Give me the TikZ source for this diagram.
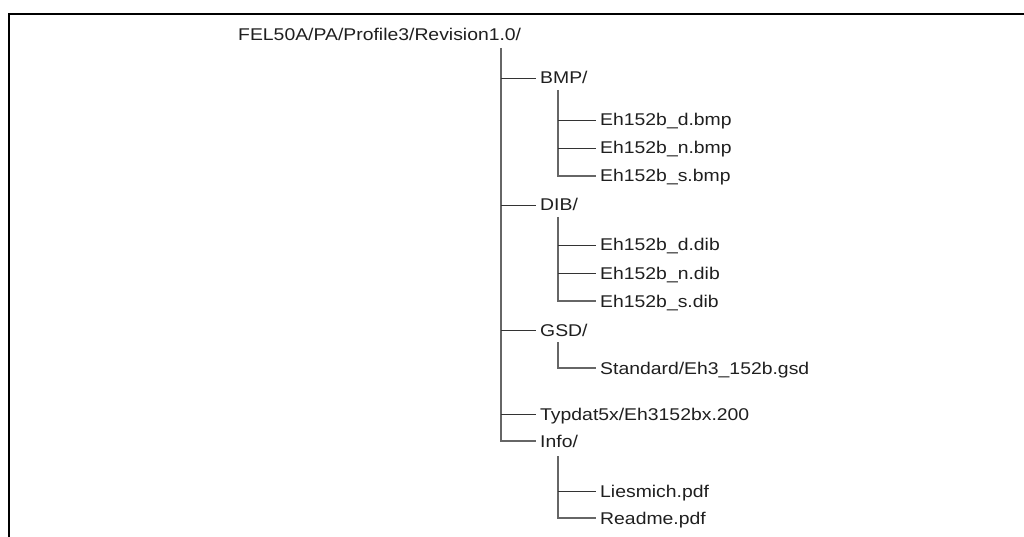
\documentclass[tikz,border=0pt]{standalone}
\usepackage{fontspec}
\setmainfont{Liberation Sans}
\newfontfamily\lblfont[FakeStretch=1.14]{Liberation Sans}
\begin{document}
\begin{tikzpicture}[x=1pt,y=-1pt,
  lbl/.style={anchor=west, inner xsep=4pt, inner ysep=0pt, text height=12pt, text depth=0pt,
    font=\lblfont\fontsize{17}{19}\selectfont, text=black!88},
  trunk/.style={draw=black!60, line width=1.4pt},
  twig/.style={draw=black!80, line width=0.9pt},
  frame/.style={draw=black, line width=2.6pt}]
\useasboundingbox (0,0) rectangle (1024,537);
\draw[frame] (1026,14) -- (9,14) -- (9,539);
% root
\node[lbl, inner xsep=0pt] (root) at (238,35) {FEL50A/PA/Profile3/Revision1.0/};
\coordinate (t0) at (501,48);
% first level
\node[lbl] (bmp) at (536,78) {BMP/};
\node[lbl] (dib) at (536,205) {DIB/};
\node[lbl] (gsd) at (536,330) {GSD/};
\node[lbl] (typ) at (536,414) {Typdat5x/Eh3152bx.200};
\node[lbl] (info) at (536,441) {Info/};
% second level
\node[lbl] (bd) at (596,120) {Eh152b\_d.bmp};
\node[lbl] (bn) at (596,148) {Eh152b\_n.bmp};
\node[lbl] (bs) at (596,176) {Eh152b\_s.bmp};
\node[lbl] (dd) at (596,245) {Eh152b\_d.dib};
\node[lbl] (dn) at (596,273) {Eh152b\_n.dib};
\node[lbl] (ds) at (596,301) {Eh152b\_s.dib};
\node[lbl] (gs) at (596,368) {Standard/Eh3\_152b.gsd};
\node[lbl] (il) at (596,491) {Liesmich.pdf};
\node[lbl] (ir) at (596,518) {Readme.pdf};
% sub-trunk tops
\coordinate (bt) at (558,90);
\coordinate (dt) at (558,217);
\coordinate (gt) at (558,342);
\coordinate (it) at (558,456);
% main trunk
\draw[trunk] (t0) |- (info.west);
\foreach \n in {bmp,dib,gsd,typ}
  \draw[twig] (\n.west -| t0) -- (\n.west);
% sub trunks
\draw[trunk] (bt) |- (bs.west);
\draw[twig] (bd.west -| bt) -- (bd.west);
\draw[twig] (bn.west -| bt) -- (bn.west);
\draw[trunk] (dt) |- (ds.west);
\draw[twig] (dd.west -| dt) -- (dd.west);
\draw[twig] (dn.west -| dt) -- (dn.west);
\draw[trunk] (gt) |- (gs.west);
\draw[trunk] (it) |- (ir.west);
\draw[twig] (il.west -| it) -- (il.west);
\end{tikzpicture}
\end{document}
